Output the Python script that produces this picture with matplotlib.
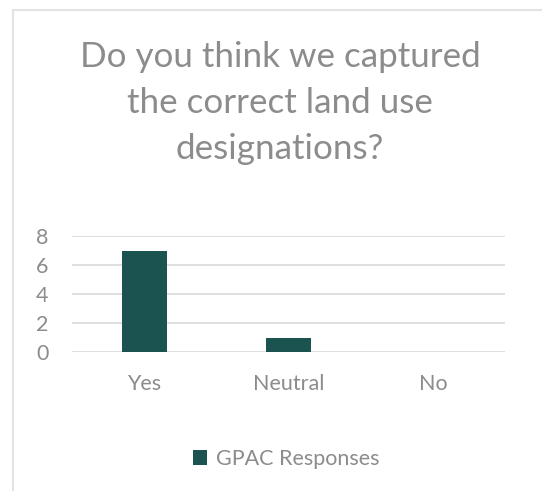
import matplotlib.pyplot as plt
from matplotlib.patches import Rectangle
import numpy as np

TITLE = "Do you think we captured\nthe correct land use\ndesignations?"
CATEGORIES = ["Yes", "Neutral", "No"]
RESPONSES = [7, 1, 0]
SERIES_NAME = "GPAC Responses"
Y_TICKS = [0, 2, 4, 6, 8]

BAR_COLOR = "#1b5350"
TEXT_COLOR = "#8c8c8c"
GRID_COLOR = "#d9d9d9"

plt.rcParams["font.family"] = ["Lato", "DejaVu Sans"]

W, H = 542, 491
fig = plt.figure(figsize=(W / 100, H / 100), dpi=100)

# chart frame (runs off the right and bottom of the image)
fig.patches.append(Rectangle((12.5 / W, -0.1), 1.2, 1 - 9.5 / H + 0.1,
                             transform=fig.transFigure, fill=False,
                             edgecolor="#e3e3e3", linewidth=1.5))

fig.text(280 / W, 1 - 103 / H, TITLE, ha="center", va="center", fontsize=25.2,
         color=TEXT_COLOR, linespacing=1.55)

ax = fig.add_axes([72 / W, 1 - 352 / H, 433 / W, 116 / H])
x = np.arange(len(CATEGORIES))
ax.bar(x, RESPONSES, width=0.31, color=BAR_COLOR, label=SERIES_NAME, zorder=3)
ax.set_xlim(-0.5, len(CATEGORIES) - 0.5)
ax.set_ylim(0, 8)
ax.set_yticks(Y_TICKS)
ax.set_xticks(x, CATEGORIES)
ax.grid(axis="y", color=GRID_COLOR, linewidth=1.2, zorder=0)
for side in ax.spines.values():
    side.set_visible(False)
ax.tick_params(axis="y", length=0, pad=17, labelsize=15.5, labelcolor=TEXT_COLOR)
ax.tick_params(axis="x", length=0, pad=16, labelsize=15.5, labelcolor=TEXT_COLOR)

leg = ax.legend(loc="center", bbox_to_anchor=(286 / W, 1 - 459 / H),
                bbox_transform=fig.transFigure, frameon=False, fontsize=15.5,
                handlelength=0.65, handleheight=0.65, handletextpad=0.4)
for t in leg.get_texts():
    t.set_color(TEXT_COLOR)

fig.savefig("out.png", dpi=100, facecolor="white")
